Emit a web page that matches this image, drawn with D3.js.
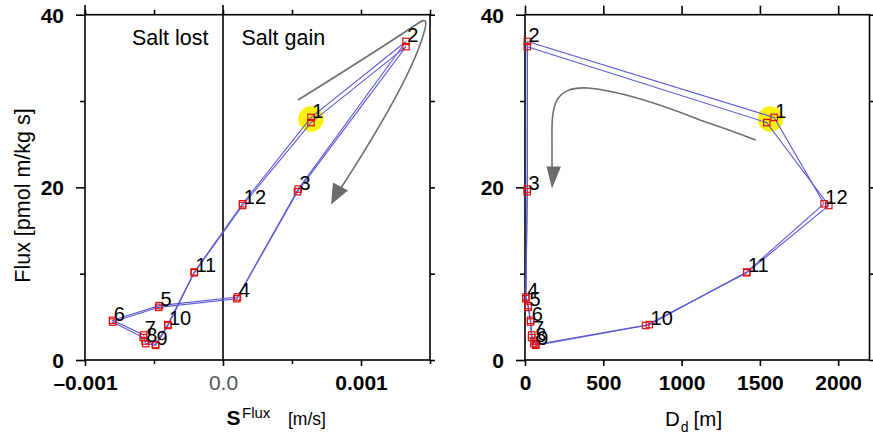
<!DOCTYPE html>
<html><head><meta charset="utf-8">
<script src="https://cdn.jsdelivr.net/npm/d3@7"></script>
<style>
html,body{margin:0;padding:0;background:#fff;}
svg{display:block;font-family:"Liberation Sans",Arial,sans-serif;}
</style></head>
<body>
<svg id="c" width="873" height="438"></svg>
<script>
// ---- data (two nearly identical realisations, months 1..12) ----
const months = ["1","2","3","4","5","6","7","8","9","10","11","12"];
const fluxA = [28.1, 36.9, 19.8, 7.3, 6.3, 4.6, 2.9, 2.2, 1.8, 4.1, 10.2, 18.1];
const fluxB = [27.5, 36.3, 19.5, 7.1, 6.1, 4.4, 2.6, 1.9, 1.7, 4.0, 10.1, 17.9];
const sFluxA = [0.000638, 0.001326, 0.000545, 0.000105, -0.000462, -0.000800, -0.000575, -0.000565, -0.000490, -0.000400, -0.000208, 0.000142];
const sFluxB = [0.000638, 0.001326, 0.000540, 0.000100, -0.000466, -0.000800, -0.000578, -0.000560, -0.000488, -0.000398, -0.000208, 0.000142];
const ddA = [1591, 15, 15, 6, 21, 36, 43, 58, 70, 794, 1416, 1910];
const ddB = [1544, 15, 14, 5, 20, 35, 42, 56, 68, 771, 1416, 1940];
const yMajor = [0, 20, 40], yMinor = [10, 30];
const xLMajor = [-0.001, 0, 0.001], xLMinor = [-0.0005, 0.0005, 0.0015];
const xLLabels = {"-0.001":"\u20130.001", "0":"0.0", "0.001":"0.001"};
const xRMajor = [0, 500, 1000, 1500, 2000];
const highlightMonth = 0;

const svg = d3.select("#c");
const FONT = '"Liberation Sans",Arial,sans-serif';
const y = d3.scaleLinear().domain([0, 40]).range([360, 14.7]);
const xL = d3.scaleLinear().domain([-0.001, 0.0015]).range([85, 430]);
const xR = d3.scaleLinear().domain([0, 2200]).range([525, 869.5]);

function styleAxis(g, fs, bold) {
  g.select(".domain").remove();
  g.selectAll("line").attr("stroke", "#000").attr("stroke-width", 1.6);
  g.selectAll("text").attr("font-size", fs).attr("font-weight", bold ? "bold" : "normal")
    .attr("fill", "#000").attr("font-family", FONT);
}

function panel(x, xMajor, xMinor, xFmt, xs, opts) {
  const [x0, x1] = x.range();
  const [y0, y1] = y.range();
  const g = svg.append("g");
  // frame
  g.append("rect").attr("x", x0).attr("y", y1).attr("width", x1 - x0).attr("height", y0 - y1)
    .attr("fill", "none").attr("stroke", "#000").attr("stroke-width", 1.6);
  // left axis
  const la = g.append("g").attr("transform", `translate(${x0},0)`)
    .call(d3.axisLeft(y).tickValues(yMajor).tickSize(9).tickPadding(12).tickFormat(d3.format("d")));
  styleAxis(la, 21, true);
  la.selectAll("text").attr("dy", "0.36em");
  const lm = g.append("g").attr("transform", `translate(${x0},0)`)
    .call(d3.axisLeft(y).tickValues(yMinor).tickSize(5).tickFormat(""));
  styleAxis(lm, 10, false);
  // right axis
  const ra = g.append("g").attr("transform", `translate(${x1},0)`)
    .call(d3.axisRight(y).tickValues(yMajor.concat(yMinor)).tickSize(5).tickFormat(""));
  styleAxis(ra, 10, false);
  // bottom axis
  const ba = g.append("g").attr("transform", `translate(0,${y0})`)
    .call(d3.axisBottom(x).tickValues(xMajor).tickSize(6).tickPadding(9).tickFormat(xFmt));
  styleAxis(ba, 21, true);
  if (xMinor.length) {
    const bm = g.append("g").attr("transform", `translate(0,${y0})`)
      .call(d3.axisBottom(x).tickValues(xMinor).tickSize(4).tickFormat(""));
    styleAxis(bm, 10, false);
  }
  // top axis
  const ta = g.append("g").attr("transform", `translate(0,${y1})`)
    .call(d3.axisTop(x).tickValues(xMajor.concat(xMinor)).tickSize(opts.topTick).tickFormat(""));
  styleAxis(ta, 10, false);
  return g;
}

function series(g, x, xsA, xsB) {
  const line = d3.line().x(d => d[0]).y(d => d[1]).curve(d3.curveLinearClosed);
  const ptsA = months.map((m, i) => [x(xsA[i]), y(fluxA[i])]);
  const ptsB = months.map((m, i) => [x(xsB[i]), y(fluxB[i])]);
  // highlight for month 1
  const h = highlightMonth;
  g.append("circle")
    .attr("cx", (ptsA[h][0] + ptsB[h][0]) / 2).attr("cy", (ptsA[h][1] + ptsB[h][1]) / 2 - 1)
    .attr("r", 12.7).attr("fill", "#f7f000").attr("opacity", 0.95);
  [ptsA, ptsB].forEach(p => {
    g.append("path").attr("d", line(p)).attr("fill", "none")
      .attr("stroke", "#5a5ad6").attr("stroke-width", 1.1);
  });
  [ptsA, ptsB].forEach(p => {
    g.selectAll(null).data(p).enter().append("rect")
      .attr("x", d => d[0] - 3.2).attr("y", d => d[1] - 3.2)
      .attr("width", 6.4).attr("height", 6.4)
      .attr("fill", "none").attr("stroke", "#dd1010").attr("stroke-width", 1.2);
  });
  g.selectAll(null).data(ptsA).enter().append("text")
    .attr("x", d => d[0] + 1.2).attr("y", d => d[1] + 0.5)
    .attr("font-size", 20).attr("font-family", FONT).attr("fill", "#000")
    .text((d, i) => months[i]);
}

// ---------- left panel ----------
const gL = panel(xL, xLMajor, xLMinor, d => xLLabels[String(+d)] ?? "", null, {topTick: 5});
gL.selectAll("text").filter(function(){ return d3.select(this).text() === "0.0"; })
  .attr("font-weight", "normal").attr("fill", "#555");
// zero line
gL.append("line").attr("x1", xL(0)).attr("x2", xL(0)).attr("y1", 5).attr("y2", y(0))
  .attr("stroke", "#000").attr("stroke-width", 1.6);
gL.append("line").attr("x1", xL(-0.001)).attr("x2", xL(-0.001)).attr("y1", 5).attr("y2", y(40))
  .attr("stroke", "#000").attr("stroke-width", 1.6);
gL.append("text").attr("x", 132).attr("y", 45).attr("font-size", 21.5).attr("font-family", FONT).text("Salt lost");
gL.append("text").attr("x", 241.5).attr("y", 45).attr("font-size", 21.5).attr("font-family", FONT).text("Salt gain");
// annotation arrow (gray hairpin)
gL.append("path")
  .attr("d", "M298,100 C335,77 390,42 417,24 C428,16 428,22 421,42 C408,80 372,140 341,188")
  .attr("fill", "none").attr("stroke", "#6e6e6e").attr("stroke-width", 1.6);
gL.append("polygon").attr("points", "333,182.5 348,190.5 331,204.5").attr("fill", "#6a6e6a");
series(gL, xL, sFluxA, sFluxB);
// y title
svg.append("text").attr("transform", "translate(30,195.5) rotate(-90)")
  .attr("text-anchor", "middle").attr("font-size", 21.5).attr("font-family", FONT)
  .text("Flux [pmol m/kg s]");
// x title left
const tL = svg.append("text").attr("x", 226.5).attr("y", 425).attr("font-family", FONT);
tL.append("tspan").attr("font-size", 21).attr("font-weight", "bold").text("S");
tL.append("tspan").attr("font-size", 15).attr("dy", -7).attr("dx", 1.5).text("Flux");
svg.append("text").attr("x", 288).attr("y", 425).attr("font-size", 17.5).attr("font-family", FONT).text("[m/s]");

// ---------- right panel ----------
const gR = panel(xR, xRMajor, [], d3.format("d"), null, {topTick: 9});
gR.append("path")
  .attr("d", "M755.7,140 C735,132 715,125 700,120 C660,104 620,91 588,88 C570,87 562,92 557,100 C551,112 552,128 552,145 L552,168")
  .attr("fill", "none").attr("stroke", "#6e6e6e").attr("stroke-width", 1.6);
gR.append("polygon").attr("points", "546.5,166.5 561,166.5 552,188.5").attr("fill", "#6a6e6a");
series(gR, xR, ddA, ddB);
const tR = svg.append("text").attr("x", 665).attr("y", 426).attr("font-family", FONT).attr("font-size", 20.5);
tR.append("tspan").text("D");
tR.append("tspan").attr("font-size", 14).attr("dy", 6).attr("dx", 1).text("d");
tR.append("tspan").attr("dy", -6).attr("dx", 5).text("[m]");
</script>
</body></html>
